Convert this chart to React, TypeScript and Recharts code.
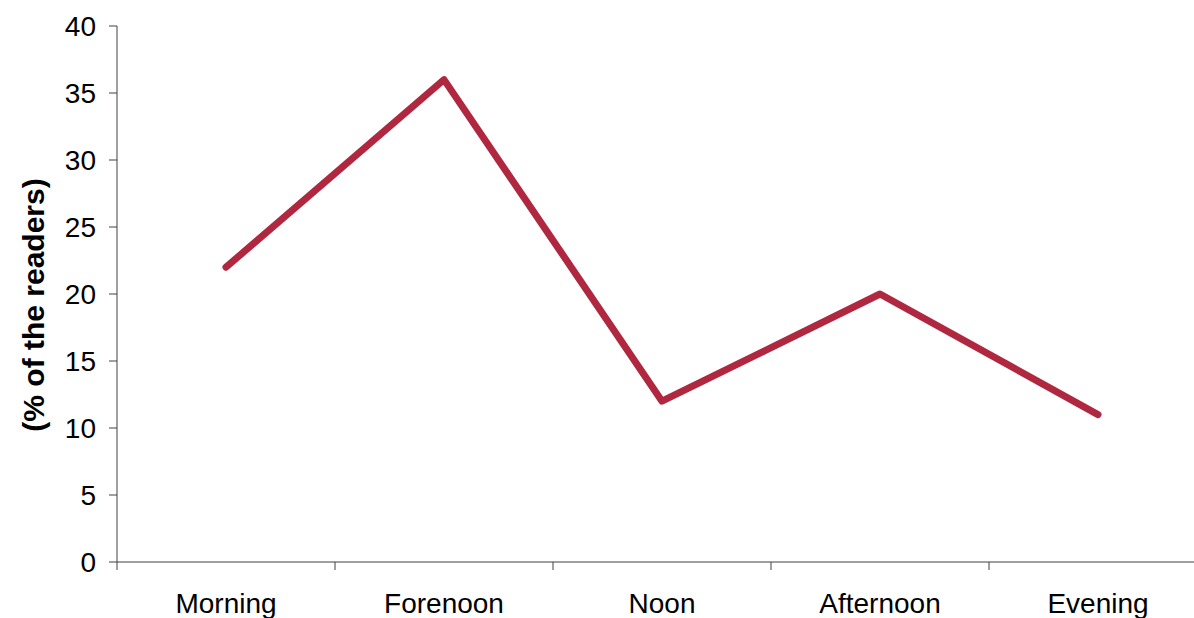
import { LineChart, Line, XAxis, YAxis } from "recharts";

const slots = ["Morning", "Forenoon", "Noon", "Afternoon", "Evening"];
const readerShare = [22, 36, 12, 20, 11];
const yTicks = [0, 5, 10, 15, 20, 25, 30, 35, 40];

const data = slots.map((slot, i) => ({ slot, share: readerShare[i] }));

const CHART_W = 1215;
const CHART_H = 618;
const MARGIN = { top: 26, right: 8, bottom: 0, left: 0 };
const Y_AXIS_W = 117;
const X_AXIS_H = 56;
const PLOT_W = CHART_W - MARGIN.left - MARGIN.right - Y_AXIS_W;
const BAND = PLOT_W / slots.length;
const TICK_SIZE = 8;
const TICK_MARGIN = 22;
const AXIS_COLOR = "#404040";
const LINE_COLOR = "#B0283F";
const FONT = "'Liberation Sans', Arial, sans-serif";

const CategoryTick = (props: any) => {
  const { x, y, payload } = props;
  const axisY = y - TICK_SIZE - TICK_MARGIN;
  const tx = x - BAND / 2;
  return (
    <g>
      <line x1={tx} y1={axisY} x2={tx} y2={axisY + TICK_SIZE} stroke={AXIS_COLOR} strokeWidth={1} />
      <text x={x} y={y + 1} dy="0.71em" textAnchor="middle" fill="#000" fontSize={28} fontFamily={FONT}>
        {payload.value}
      </text>
    </g>
  );
};

const YTitle = (props: any) => {
  const { viewBox } = props;
  const cx = viewBox.x + 33;
  const cy = viewBox.y + viewBox.height / 2 + 11;
  return (
    <text
      x={cx}
      y={cy}
      transform={`rotate(-90 ${cx} ${cy})`}
      textAnchor="middle"
      dominantBaseline="central"
      fontSize={30}
      fontWeight="bold"
      fontFamily={FONT}
      fill="#000"
    >
      (% of the readers)
    </text>
  );
};

export default function App() {
  return (
    <div
      style={{
        position: "fixed",
        left: 0,
        top: 0,
        width: 1194,
        height: 618,
        overflow: "hidden",
        background: "#fff",
      }}
    >
      <LineChart width={CHART_W} height={CHART_H} data={data} margin={MARGIN}>
        <XAxis
          dataKey="slot"
          height={X_AXIS_H}
          interval={0}
          padding={{ left: BAND / 2, right: BAND / 2 }}
          axisLine={{ stroke: AXIS_COLOR, strokeWidth: 1 }}
          tickLine={false}
          tickSize={TICK_SIZE}
          tickMargin={TICK_MARGIN}
          tick={<CategoryTick />}
        />
        <YAxis
          width={Y_AXIS_W}
          domain={[0, 40]}
          ticks={yTicks}
          interval={0}
          axisLine={{ stroke: AXIS_COLOR, strokeWidth: 1 }}
          tickLine={{ stroke: AXIS_COLOR, strokeWidth: 1 }}
          tickSize={TICK_SIZE}
          tickMargin={13}
          tick={{ fill: "#000", fontSize: 28, fontFamily: FONT }}
          label={<YTitle />}
        />
        <Line
          type="linear"
          dataKey="share"
          stroke={LINE_COLOR}
          strokeWidth={7}
          strokeLinecap="round"
          strokeLinejoin="round"
          dot={false}
          activeDot={false}
          isAnimationActive={false}
        />
      </LineChart>
    </div>
  );
}
